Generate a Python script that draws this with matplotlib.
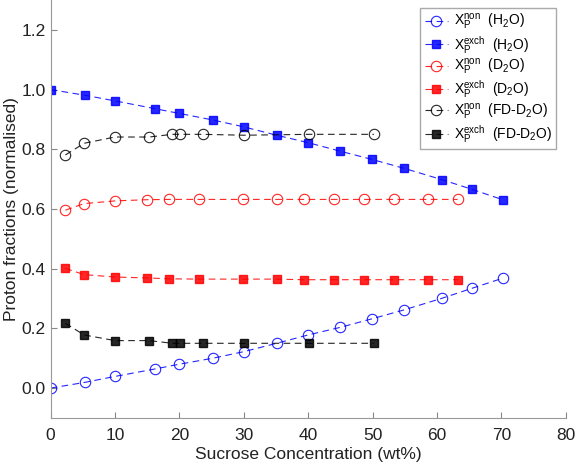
import matplotlib
matplotlib.use('Agg')
import matplotlib.pyplot as plt

plt.rcParams['font.family'] = ['Liberation Sans', 'DejaVu Sans']
plt.rcParams['mathtext.fontset'] = 'custom'
plt.rcParams['mathtext.rm'] = 'Liberation Sans'
plt.rcParams['mathtext.it'] = 'Liberation Sans'

# H2O
h2o_x_non = [0, 5.3, 10, 16.2, 20, 25.2, 30, 35.1, 40, 44.9, 49.9, 54.9, 60.8, 65.4, 70.2]
h2o_non = [0.0, 0.019, 0.039, 0.064, 0.080, 0.100, 0.122, 0.150, 0.178, 0.203, 0.232, 0.262, 0.301, 0.334, 0.368]
h2o_exch = [1.0, 0.981, 0.962, 0.936, 0.920, 0.898, 0.875, 0.847, 0.822, 0.794, 0.766, 0.736, 0.698, 0.666, 0.631]

# D2O
d2o_x = [2.3, 5.2, 10, 14.9, 18.4, 23.1, 29.9, 35.1, 39.3, 44.0, 48.7, 53.4, 58.6, 63.2]
d2o_non = [0.596, 0.618, 0.627, 0.631, 0.632, 0.632, 0.632, 0.632, 0.632, 0.632, 0.632, 0.632, 0.632, 0.632]
d2o_exch = [0.401, 0.380, 0.372, 0.369, 0.366, 0.365, 0.365, 0.365, 0.363, 0.363, 0.363, 0.363, 0.363, 0.363]

# FD-D2O
fd_x = [2.3, 5.2, 10, 15.3, 18.9, 20.1, 23.6, 30, 40.2, 50.2]
fd_non = [0.781, 0.820, 0.841, 0.841, 0.850, 0.850, 0.850, 0.847, 0.850, 0.850]
fd_exch = [0.217, 0.178, 0.159, 0.159, 0.150, 0.150, 0.150, 0.150, 0.150, 0.150]

fig = plt.figure(figsize=(5.75, 4.68), dpi=100)
ax = fig.add_axes([0.088, 0.107, 0.896, 0.893])

def lab(kind, solvent):
    return r'X$_\mathrm{P}^\mathrm{%s}$  (%s)' % (kind, solvent)

series = [
    (h2o_x_non, h2o_non, 'blue', 'o', lab('non', r'H$_2$O')),
    (h2o_x_non, h2o_exch, 'blue', 's', lab('exch', r'H$_2$O')),
    (d2o_x, d2o_non, 'red', 'o', lab('non', r'D$_2$O')),
    (d2o_x, d2o_exch, 'red', 's', lab('exch', r'D$_2$O')),
    (fd_x, fd_non, 'black', 'o', lab('non', r'FD-D$_2$O')),
    (fd_x, fd_exch, 'black', 's', lab('exch', r'FD-D$_2$O')),
]

for x, y, c, m, l in series:
    if m == 'o':
        ax.plot(x, y, ls=(0, (6, 4)), color=c, lw=0.8, alpha=0.85, marker='o', ms=7.5,
                mfc='none', mec=c, mew=0.8, label=l)
    else:
        ax.plot(x, y, ls=(0, (6, 4)), color=c, lw=0.8, alpha=0.85, marker='s', ms=6,
                mfc=c, mec=c, label=l)

ax.set_xlim(0, 80)
ax.set_ylim(-0.1, 1.3)
ax.set_xticks(range(0, 81, 10))
ax.set_yticks([0.0, 0.2, 0.4, 0.6, 0.8, 1.0, 1.2])
ax.set_yticklabels(['0.0', '0.2', '0.4', '0.6', '0.8', '1.0', '1.2'])
ax.tick_params(direction='in', length=4, color='#888888', labelsize=12.5, labelcolor='#222222')
ax.tick_params(axis='x', pad=7)
for s in ['top', 'right']:
    ax.spines[s].set_visible(False)
for s in ['left', 'bottom']:
    ax.spines[s].set_color('#999999')
    ax.spines[s].set_linewidth(0.8)

ax.set_xlabel('Sucrose Concentration (wt%)', fontsize=12.5, color='#222222', labelpad=3)
ax.set_ylabel('Proton fractions (normalised)', fontsize=12.5, color='#222222', labelpad=2)

leg = ax.legend(loc='upper right', bbox_to_anchor=(0.995, 0.997), fontsize=10, handlelength=1.7,
                labelspacing=0.1, borderpad=0.3, handletextpad=0.4, fancybox=False, framealpha=1)
leg.get_frame().set_edgecolor('#aaaaaa')
leg.get_frame().set_linewidth(1.0)

fig.savefig('out.png', dpi=100)
